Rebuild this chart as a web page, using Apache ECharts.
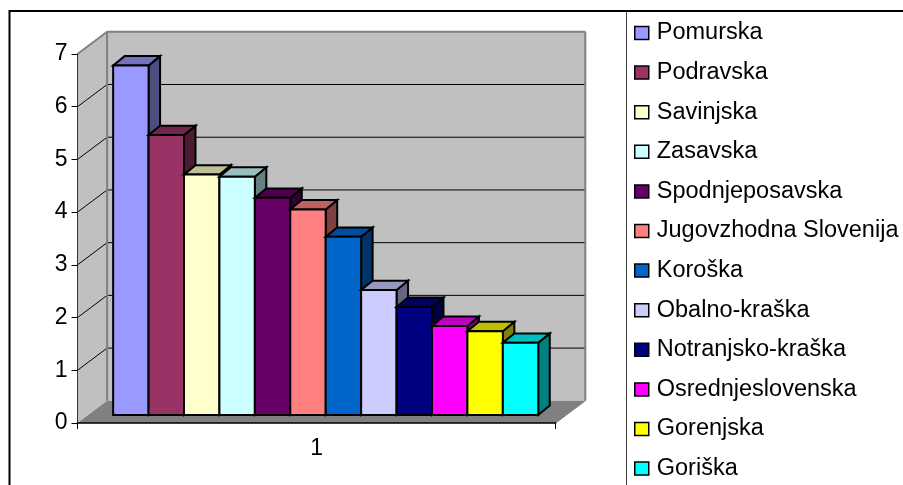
<!DOCTYPE html>
<html><head><meta charset="utf-8">
<style>html,body{margin:0;padding:0;background:#fff}#c{width:903px;height:485px}</style>
<script src="https://cdn.jsdelivr.net/npm/echarts@6/dist/echarts.min.js"></script>
</head><body><div id="c"></div>
<script>
const regions = ['Pomurska','Podravska','Savinjska','Zasavska','Spodnjeposavska','Jugovzhodna Slovenija','Koroška','Obalno-kraška','Notranjsko-kraška','Osrednjeslovenska','Gorenjska','Goriška'];
const values = [6.63,5.31,4.56,4.52,4.12,3.90,3.38,2.37,2.05,1.69,1.59,1.37];
const colors = ['#9999FF','#993366','#FFFFCC','#CCFFFF','#660066','#FF8080','#0066CC','#CCCCFF','#000080','#FF00FF','#FFFF00','#00FFFF'];
const categories = ['1'];
const yTicks = [0,1,2,3,4,5,6,7];

const FONT = '"Liberation Sans", Arial, sans-serif';
const WALL = {dx:29.6, dy:-22.2};
const BAR_SHIFT = {dx:9.1, dy:-8};
const BAR_DEPTH = {dx:11.5, dy:-9.4};
const BAND_FILL = 0.889;

function shade(hex, f){
  const n = parseInt(hex.slice(1),16);
  return 'rgb(' + [(n>>16)&255,(n>>8)&255,n&255].map(c=>Math.round(c*f)).join(',') + ')';
}
function poly(points, fill, stroke, lw){
  return {type:'polygon', shape:{points}, style:{fill, stroke, lineWidth:lw}};
}
function line(p, q, stroke, lw){
  return {type:'line', shape:{x1:p[0],y1:p[1],x2:q[0],y2:q[1]}, style:{stroke, lineWidth:lw}};
}
function renderWalls(params, api){
  const cs = params.coordSys;
  const x0 = cs.x, x1 = cs.x + cs.width;
  const y = v => api.coord([0, v])[1];
  const b = y(yTicks[0]), t = y(yTicks[yTicks.length-1]);
  const d = WALL;
  const children = [
    poly([[x0+d.dx,t+d.dy],[x1+d.dx,t+d.dy],[x1+d.dx,b+d.dy],[x0+d.dx,b+d.dy]],'#C0C0C0',null,0),
    poly([[x0,t],[x0+d.dx,t+d.dy],[x0+d.dx,b+d.dy],[x0,b]],'#C0C0C0',null,0),
    poly([[x0,b],[x0+d.dx,b+d.dy],[x1+d.dx,b+d.dy],[x1,b]],'#808080',null,0)
  ];
  yTicks.slice(1,-1).forEach(v=>{
    const yy = y(v);
    children.push(line([x0,yy],[x0+d.dx,yy+d.dy],'#000',1));
    children.push(line([x0+d.dx,yy+d.dy],[x1+d.dx,yy+d.dy],'#000',1));
  });
  children.push(line([x0,t],[x0+d.dx,t+d.dy],'#808080',2));
  children.push(line([x0+d.dx,t+d.dy],[x1+d.dx,t+d.dy],'#808080',2));
  children.push(line([x0+d.dx,t+d.dy],[x0+d.dx,b+d.dy],'#808080',2));
  children.push(line([x1+d.dx,t+d.dy],[x1+d.dx,b+d.dy],'#808080',2));
  children.push(line([x1+d.dx,b+d.dy],[x1,b],'#808080',1));
  return {type:'group', children};
}
function barRenderer(index){
  return function(params, api){
    const band = api.size([1,0])[0];
    const w = band*BAND_FILL/regions.length;
    const base = api.coord([api.value(0), 0]);
    const top = api.coord([api.value(0), api.value(1)]);
    const x = base[0] + BAR_SHIFT.dx + (index - regions.length/2)*w;
    const yb = base[1] + BAR_SHIFT.dy, yt = top[1] + BAR_SHIFT.dy;
    const d = BAR_DEPTH, c = colors[index], k = '#000', lw = 2;
    return {type:'group', children:[
      poly([[x+w,yt],[x+w+d.dx,yt+d.dy],[x+w+d.dx,yb+d.dy],[x+w,yb]],shade(c,0.5),k,lw),
      poly([[x,yt],[x+d.dx,yt+d.dy],[x+w+d.dx,yt+d.dy],[x+w,yt]],shade(c,0.75),k,lw),
      poly([[x,yt],[x+w,yt],[x+w,yb],[x,yb]],c,k,lw)
    ]};
  };
}

const series = [{
  name:'walls', type:'custom', z:0, silent:true, clip:false,
  coordinateSystem:'cartesian2d', data:[[0,0]], renderItem:renderWalls
}].concat(regions.map((name,i)=>({
  name, type:'custom', z:2, clip:false, coordinateSystem:'cartesian2d',
  itemStyle:{color:colors[i]},
  encode:{x:0,y:1},
  data:[[0,values[i]]], renderItem:barRenderer(i)
})));

const chart = echarts.init(document.getElementById('c'), null, {renderer:'canvas'});
chart.setOption({
  animation:false,
  backgroundColor:'#fff',
  textStyle:{fontFamily:FONT},
  grid:{left:77.5, top:54, width:478.2, height:369},
  xAxis:{type:'category', data:categories, z:1,
    axisLine:{lineStyle:{color:'#000',width:1.5}},
    axisTick:{show:true, length:6, alignWithLabel:false, lineStyle:{color:'#000'}},
    axisLabel:{color:'#000', fontSize:23, margin:14, fontFamily:FONT}},
  yAxis:{type:'value', min:0, max:7, interval:1, z:1,
    axisLine:{show:true, lineStyle:{color:'#333',width:1}},
    axisTick:{show:true, length:6, lineStyle:{color:'#000'}},
    axisLabel:{color:'#000', fontSize:23, margin:10, fontFamily:FONT, padding:[0,0,0,0], lineHeight:27, verticalAlign:'middle'},
    splitLine:{show:false}},
  legend:{
    orient:'vertical', left:634, top:21, height:464, width:269, padding:0,
    data:regions, icon:'rect', itemWidth:14, itemHeight:13, itemGap:15.6,
    itemStyle:{borderColor:'#000',borderWidth:1.5},
    selectedMode:false,
    textStyle:{color:'#000',fontSize:23.5,fontFamily:FONT,padding:[0,0,0,3]}
  },
  graphic:[
    {type:'line',silent:true,shape:{x1:9.5,y1:11,x2:903,y2:11},style:{stroke:'#000',lineWidth:2}},
    {type:'line',silent:true,shape:{x1:9.5,y1:10,x2:9.5,y2:485},style:{stroke:'#000',lineWidth:2}},
    {type:'line',silent:true,shape:{x1:626.5,y1:12,x2:626.5,y2:485},style:{stroke:'#404040',lineWidth:1}}
  ],
  series
});
</script></body></html>
